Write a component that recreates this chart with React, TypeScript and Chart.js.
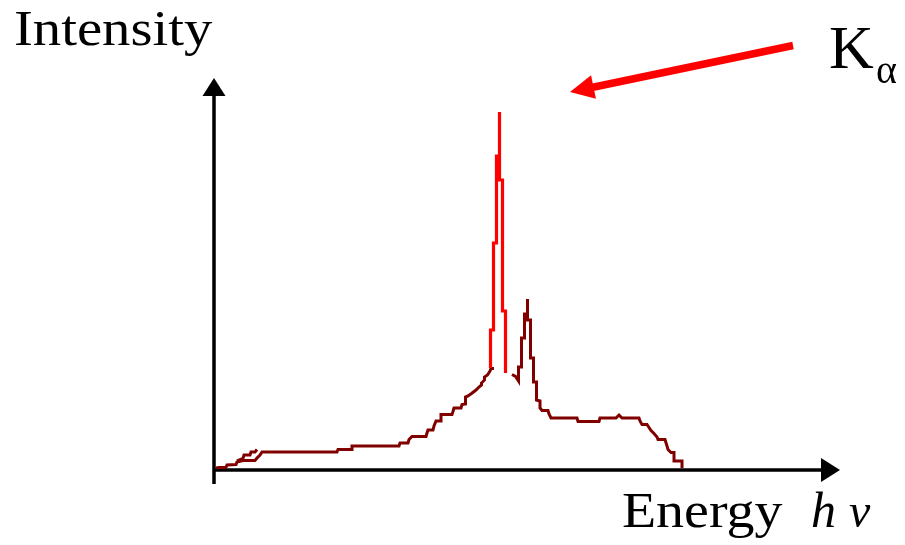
import { useEffect, useRef } from "react";
import { Chart, registerables } from "chart.js";

Chart.register(...registerables);

// Energy axis in arbitrary channel units (0 .. 626), intensity in arbitrary counts (0 .. 392)

// Continuum rising towards the Kα line
const riseEnergy = [2, 5, 12, 13, 22, 23, 29, 41, 43, 46, 48, 123, 124, 138, 138, 185, 186, 194, 195, 198, 212, 213, 214, 219, 220, 222, 227, 227, 238, 239, 240, 247, 248, 251.5, 251.5, 254, 257.5, 262, 265, 267.5, 267.5, 270.5, 270.5, 273.5, 276, 277, 280];
const riseIntensity = [2, 2.5, 2.5, 5, 5.5, 8, 9.5, 9.5, 12, 15, 18, 18, 20.5, 20.5, 24, 24, 27, 27, 30.5, 33.5, 33.5, 37, 40, 40, 44, 49, 49, 55.5, 55.5, 58.5, 62, 62, 65.5, 66, 73, 74, 76.5, 80, 83, 85, 87, 90, 93, 95, 99, 101.5, 101.5];

// Small loop near the origin
const loopEnergy = [23, 29, 30, 36, 37, 41, 43];
const loopIntensity = [9, 11.5, 15, 15, 18, 18, 20.5];

// Kα peak
const kAlphaEnergy = [276.5, 276.5, 279.5, 279.5, 282.5, 282.5, 285.5, 285.5, 285.5, 288.5, 288.5, 291.5, 291.5];
const kAlphaIntensity = [102, 140, 140, 227, 227, 314, 314, 358, 290, 290, 159, 159, 97];

// Secondary (Kβ) peak and continuum tail
const tailEnergy = [298, 301.5, 304.5, 304.5, 307.5, 307.5, 310.5, 310.5, 313.5, 313.5, 313.5, 316.5, 316.5, 319.5, 319.5, 322.5, 322.5, 326, 326, 328, 334, 335, 337, 363, 364, 385, 386, 402, 405, 408, 425, 426, 428, 433, 435, 437, 440, 443, 444, 451, 453, 454, 457, 460, 460, 468, 468];
const tailIntensity = [95.5, 93.5, 89, 103, 103, 132, 132, 156, 156, 171, 150, 150, 112, 112, 88, 88, 70, 69, 62, 59.5, 59.5, 56, 52, 52, 48.5, 48.5, 52, 52, 55, 52, 52, 49, 45.5, 45.5, 42.5, 39.5, 36.5, 33, 30.5, 30.5, 24, 20.5, 17.5, 17.5, 9, 9, 2];

const energyMax = 626;
const intensityMax = 392;

// Annotation arrow (data units): from label towards the Kα peak
const arrowFrom = [579, 424.5];
const arrowTo = [356, 378];

const yLabel = "Intensity";
const xLabel = "Energy";
const peakLabel = "K";
const peakSub = "α";

const zip = (xs: number[], ys: number[]) => xs.map((x, i) => ({ x, y: ys[i] }));

function fitText(ctx: CanvasRenderingContext2D, text: string, x: number, baseline: number, width: number, font: string) {
  ctx.save();
  ctx.font = font;
  const m = ctx.measureText(text);
  const w = m.actualBoundingBoxLeft + m.actualBoundingBoxRight;
  const sx = width / w;
  ctx.translate(x, baseline);
  ctx.scale(sx, 1);
  ctx.fillText(text, m.actualBoundingBoxLeft, 0);
  ctx.restore();
}

const decorations = {
  id: "decorations",
  beforeDatasetsDraw(chart: any) {
    const { ctx, chartArea, scales } = chart;
    const xs = scales.x;
    const ys = scales.y;
    const x0 = xs.getPixelForValue(0);
    const y0 = ys.getPixelForValue(0);
    ctx.save();
    ctx.strokeStyle = "#000";
    ctx.fillStyle = "#000";
    ctx.lineWidth = 3.5;
    ctx.beginPath();
    ctx.moveTo(x0, y0 + 14);
    ctx.lineTo(x0, chartArea.top + 14);
    ctx.moveTo(x0, y0);
    ctx.lineTo(chartArea.right - 14, y0);
    ctx.stroke();
    ctx.beginPath();
    ctx.moveTo(x0, chartArea.top);
    ctx.lineTo(x0 - 11.5, chartArea.top + 18);
    ctx.lineTo(x0 + 11.5, chartArea.top + 18);
    ctx.closePath();
    ctx.fill();
    ctx.beginPath();
    ctx.moveTo(chartArea.right, y0);
    ctx.lineTo(chartArea.right - 19, y0 - 12);
    ctx.lineTo(chartArea.right - 19, y0 + 12);
    ctx.closePath();
    ctx.fill();
    ctx.restore();
  },
  afterDatasetsDraw(chart: any) {
    const { ctx, scales } = chart;
    const xs = scales.x;
    const ys = scales.y;
    ctx.save();
    // red arrow
    const fx = xs.getPixelForValue(arrowFrom[0]);
    const fy = ys.getPixelForValue(arrowFrom[1]);
    const tx = xs.getPixelForValue(arrowTo[0]);
    const ty = ys.getPixelForValue(arrowTo[1]);
    const dx = tx - fx;
    const dy = ty - fy;
    const len = Math.hypot(dx, dy);
    const ux = dx / len;
    const uy = dy / len;
    const headLen = 24;
    const headHalf = 12;
    const bx = tx - ux * headLen;
    const by = ty - uy * headLen;
    ctx.strokeStyle = "#ff0000";
    ctx.fillStyle = "#ff0000";
    ctx.lineWidth = 7.5;
    ctx.lineCap = "butt";
    ctx.beginPath();
    ctx.moveTo(fx, fy);
    ctx.lineTo(bx + ux * 3, by + uy * 3);
    ctx.stroke();
    ctx.beginPath();
    ctx.moveTo(tx, ty);
    ctx.lineTo(bx - uy * headHalf, by + ux * headHalf);
    ctx.lineTo(bx + uy * headHalf, by - ux * headHalf);
    ctx.closePath();
    ctx.fill();

    // texts
    ctx.fillStyle = "#000";
    ctx.textBaseline = "alphabetic";
    ctx.textAlign = "left";
    fitText(ctx, yLabel, 15, 45, 198, "51px 'Liberation Serif'");
    fitText(ctx, xLabel, 623, 527, 160, "51px 'Liberation Serif'");
    ctx.font = "italic 50px 'Liberation Serif'";
    ctx.fillText("h", 811, 527);
    ctx.font = "italic 48px 'Liberation Serif'";
    ctx.fillText("ν", 849, 527);
    ctx.font = "62px 'Liberation Serif'";
    ctx.fillText(peakLabel, 829, 68);
    ctx.font = "40px 'Liberation Serif'";
    ctx.fillText(peakSub, 876, 83);
    ctx.restore();
  },
};

export default function App() {
  const ref = useRef<HTMLCanvasElement | null>(null);
  useEffect(() => {
    if (!ref.current) return;
    const dark = "#800000";
    const common = {
      borderColor: dark,
      borderWidth: 3,
      pointRadius: 0,
      tension: 0,
      fill: false,
    };
    const chart = new Chart(ref.current, {
      type: "line",
      data: {
        datasets: [
          { ...common, label: "Kα", data: zip(kAlphaEnergy, kAlphaIntensity), borderColor: "#ff0000", borderWidth: 3.2 },
          { ...common, label: "continuum", data: zip(riseEnergy, riseIntensity) },
          { ...common, label: "loop", data: zip(loopEnergy, loopIntensity) },
          { ...common, label: "tail", data: zip(tailEnergy, tailIntensity) },
        ],
      },
      options: {
        responsive: false,
        animation: false,
        devicePixelRatio: 1,
        parsing: true,
        layout: { padding: { left: 214, right: 65, top: 78, bottom: 75 } },
        scales: {
          x: { type: "linear", min: 0, max: energyMax, display: false },
          y: { type: "linear", min: 0, max: intensityMax, display: false },
        },
        plugins: {
          legend: { display: false },
          title: { display: false },
          tooltip: { enabled: false },
        },
      },
      plugins: [decorations],
    });
    return () => chart.destroy();
  }, []);
  return (
    <div style={{ position: "absolute", left: 0, top: 0, width: 905, height: 545, background: "#fff" }}>
      <canvas ref={ref} width={905} height={545} style={{ display: "block" }} />
    </div>
  );
}
